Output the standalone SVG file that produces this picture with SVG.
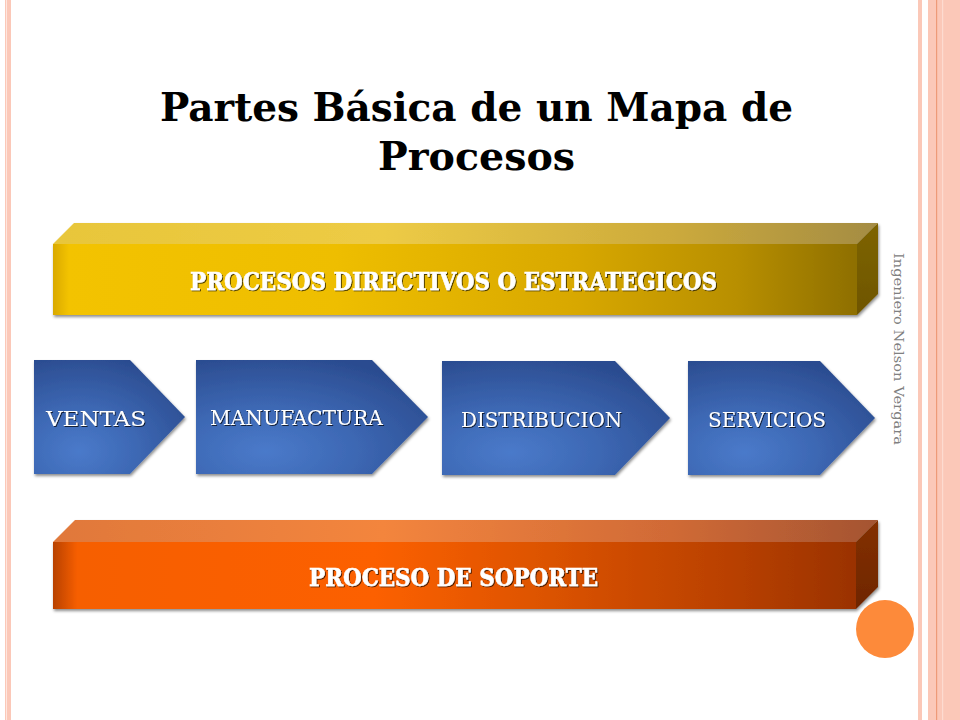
<svg xmlns="http://www.w3.org/2000/svg" width="960" height="720" viewBox="0 0 960 720">
  <style>
    .title { font-family: "DejaVu Serif", "Liberation Serif", serif; font-weight: bold; font-size: 40px; fill: #000000; }
    .barText { font-family: "DejaVu Serif", "Liberation Serif", serif; font-weight: bold; font-size: 24px; fill: #ffffff; stroke: #ffffff; stroke-width: 0.6px; }
    .chev { font-family: "DejaVu Serif", "Liberation Serif", serif; font-size: 20.5px; fill: #ffffff; }
    .side { font-family: "DejaVu Serif", "Liberation Serif", serif; font-size: 13.5px; fill: #808080; }
  </style>
  <defs>
    <linearGradient id="yFront" x1="0" y1="0" x2="1" y2="0">
      <stop offset="0" stop-color="#D9A900"/>
      <stop offset="0.02" stop-color="#F3C300"/>
      <stop offset="0.35" stop-color="#EEBE00"/>
      <stop offset="0.65" stop-color="#D8A800"/>
      <stop offset="0.85" stop-color="#B88F00"/>
      <stop offset="1" stop-color="#8E6F00"/>
    </linearGradient>
    <linearGradient id="yTop" x1="0" y1="0" x2="1" y2="0">
      <stop offset="0" stop-color="#E8C63A"/>
      <stop offset="0.4" stop-color="#EDCB45"/>
      <stop offset="0.75" stop-color="#CCAA3C"/>
      <stop offset="1" stop-color="#A48C44"/>
    </linearGradient>
    <linearGradient id="ySide" x1="0" y1="0" x2="0" y2="1">
      <stop offset="0" stop-color="#7E6400"/>
      <stop offset="1" stop-color="#6E5500"/>
    </linearGradient>
    <linearGradient id="oFront" x1="0" y1="0" x2="1" y2="0">
      <stop offset="0" stop-color="#B84200"/>
      <stop offset="0.03" stop-color="#F65E00"/>
      <stop offset="0.4" stop-color="#FC6000"/>
      <stop offset="0.6" stop-color="#DE5400"/>
      <stop offset="0.85" stop-color="#B84000"/>
      <stop offset="1" stop-color="#9A3200"/>
    </linearGradient>
    <linearGradient id="oTop" x1="0" y1="0" x2="1" y2="0">
      <stop offset="0" stop-color="#E0783A"/>
      <stop offset="0.4" stop-color="#F3853E"/>
      <stop offset="0.75" stop-color="#D06A36"/>
      <stop offset="1" stop-color="#A45432"/>
    </linearGradient>
    <linearGradient id="oSide" x1="0" y1="0" x2="0" y2="1">
      <stop offset="0" stop-color="#843000"/>
      <stop offset="1" stop-color="#6E2600"/>
    </linearGradient>
    <radialGradient id="blue" cx="0.3" cy="0.8" r="0.85">
      <stop offset="0" stop-color="#4A7ACA"/>
      <stop offset="0.45" stop-color="#3D68B4"/>
      <stop offset="1" stop-color="#2B4C90"/>
    </radialGradient>
    <filter id="shadow" x="-5%" y="-10%" width="112%" height="130%">
      <feDropShadow dx="1" dy="2" stdDeviation="1.5" flood-color="#000000" flood-opacity="0.45"/>
    </filter>
    <filter id="txtShadow" x="-5%" y="-30%" width="110%" height="160%">
      <feDropShadow dx="1" dy="1" stdDeviation="0.6" flood-color="#000000" flood-opacity="0.7"/>
    </filter>
  </defs>

  <rect x="0" y="0" width="960" height="720" fill="#ffffff"/>

  <!-- page borders -->
  <g id="borders">
    <rect x="5" y="0" width="6" height="720" fill="#FBC8B8"/>
    <rect x="6" y="0" width="1" height="720" fill="#FEE6DE"/>
    <rect x="918" y="0" width="4" height="720" fill="#FBC8B8"/>
    <rect x="928" y="0" width="32" height="720" fill="#FBC8B8"/>
    <rect x="936" y="0" width="1.2" height="720" fill="#EE9A78"/>
    <rect x="942" y="0" width="1.2" height="720" fill="#FDDBD0"/>
  </g>

  <g id="title">
    <text class="title" x="476.5" y="121" text-anchor="middle" textLength="633" lengthAdjust="spacingAndGlyphs">Partes Básica de un Mapa de</text>
    <text class="title" x="476.5" y="170" text-anchor="middle" textLength="197" lengthAdjust="spacingAndGlyphs">Procesos</text>
  </g>

  <g id="node-directivos" filter="url(#shadow)">
    <polygon points="53,244 74,223 878,223 857,244" fill="url(#yTop)"/>
    <polygon points="857,244 878,223 878,294 857,315" fill="url(#ySide)"/>
    <rect x="53" y="244" width="804" height="71" fill="url(#yFront)"/>
    <text class="barText" x="453.5" y="290" text-anchor="middle" textLength="527" lengthAdjust="spacingAndGlyphs" filter="url(#txtShadow)">PROCESOS DIRECTIVOS O ESTRATEGICOS</text>
  </g>

  <g id="node-ventas" filter="url(#shadow)">
    <polygon points="34,360 130,360 185,417 130,474 34,474" fill="url(#blue)"/>
    <text class="chev" x="46" y="426" font-size="23" textLength="100" lengthAdjust="spacingAndGlyphs" filter="url(#txtShadow)">VENTAS</text>
  </g>
  <g id="node-manufactura" filter="url(#shadow)">
    <polygon points="196,360 372,360 428,417 372,474 196,474" fill="url(#blue)"/>
    <text class="chev" x="210" y="425" font-size="19.5" textLength="173" lengthAdjust="spacingAndGlyphs" filter="url(#txtShadow)">MANUFACTURA</text>
  </g>
  <g id="node-distribucion" filter="url(#shadow)">
    <polygon points="442,361 615,361 670,418 615,475 442,475" fill="url(#blue)"/>
    <text class="chev" x="461" y="426.5" textLength="161" lengthAdjust="spacingAndGlyphs" filter="url(#txtShadow)">DISTRIBUCION</text>
  </g>
  <g id="node-servicios" filter="url(#shadow)">
    <polygon points="688,361 820,361 875,418 820,475 688,475" fill="url(#blue)"/>
    <text class="chev" x="708" y="426.5" textLength="118" lengthAdjust="spacingAndGlyphs" filter="url(#txtShadow)">SERVICIOS</text>
  </g>

  <g id="node-soporte" filter="url(#shadow)">
    <polygon points="53,542 75,520 878,520 856,542" fill="url(#oTop)"/>
    <polygon points="856,542 878,520 878,587 856,609" fill="url(#oSide)"/>
    <rect x="53" y="542" width="803" height="67" fill="url(#oFront)"/>
    <text class="barText" x="453.5" y="586" text-anchor="middle" font-size="25" textLength="289" lengthAdjust="spacingAndGlyphs" filter="url(#txtShadow)">PROCESO DE SOPORTE</text>
  </g>

  <g id="connectors"/>

  <g id="decor">
    <circle cx="885" cy="629" r="29" fill="#FD8A3A"/>
    <text class="side" transform="translate(894,253) rotate(90)" textLength="192" lengthAdjust="spacingAndGlyphs">Ingeniero Nelson Vergara</text>
  </g>
</svg>
